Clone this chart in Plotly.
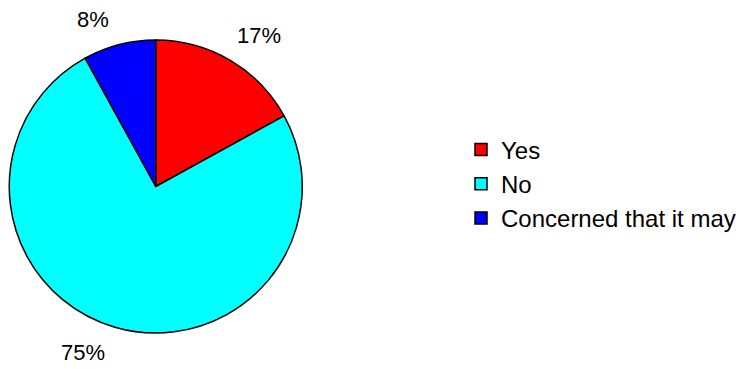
import math
import plotly.graph_objects as go

labels = ["Yes", "No", "Concerned that it may"]
values = [17, 75, 8]
colors = ["#FF0000", "#00FFFF", "#0000FF"]

W, H = 747, 369
dom_x = [0.012, 0.405]
dom_y = [0.0976, 0.8916]
FONT = "Liberation Sans, Arial"

fig = go.Figure(
    go.Pie(
        labels=labels,
        values=values,
        sort=False,
        direction="clockwise",
        rotation=0,
        marker=dict(colors=colors, line=dict(color="#000000", width=1.5)),
        textinfo="none",
        automargin=False,
        domain=dict(x=dom_x, y=dom_y),
        hoverinfo="label+percent",
    )
)

# percentage labels placed outside each slice (Excel-like), derived from the values
cx = (dom_x[0] + dom_x[1]) / 2 * W
cy = (dom_y[0] + dom_y[1]) / 2 * H
R = min((dom_x[1] - dom_x[0]) * W, (dom_y[1] - dom_y[0]) * H) / 2
total = sum(values)
cum = 0.0
for v in values:
    mid = (cum + v / 2) / total * 2 * math.pi
    cum += v
    ex = cx + R * math.sin(mid)
    ey = cy + R * math.cos(mid)
    sx = 1 if math.sin(mid) >= 0 else -1
    sy = 1 if math.cos(mid) >= 0 else -1
    fig.add_annotation(
        x=(ex + sx * (5 if sx > 0 else 8)) / W,
        y=(ey + sy * 25) / H,
        xref="paper",
        yref="paper",
        text=f"{round(v / total * 100)}%",
        showarrow=False,
        xanchor="left" if sx > 0 else "right",
        yanchor="middle",
        font=dict(family=FONT, size=22, color="#000000"),
    )

fig.update_layout(
    width=W,
    height=H,
    margin=dict(l=0, r=0, t=0, b=0),
    paper_bgcolor="#FFFFFF",
    plot_bgcolor="#FFFFFF",
    showlegend=True,
    legend=dict(
        x=461 / W,
        y=0.5014,
        xanchor="left",
        yanchor="middle",
        font=dict(family=FONT, size=24, color="#000000"),
        itemwidth=30,
        traceorder="normal",
    ),
)

fig.write_html("out.html")
